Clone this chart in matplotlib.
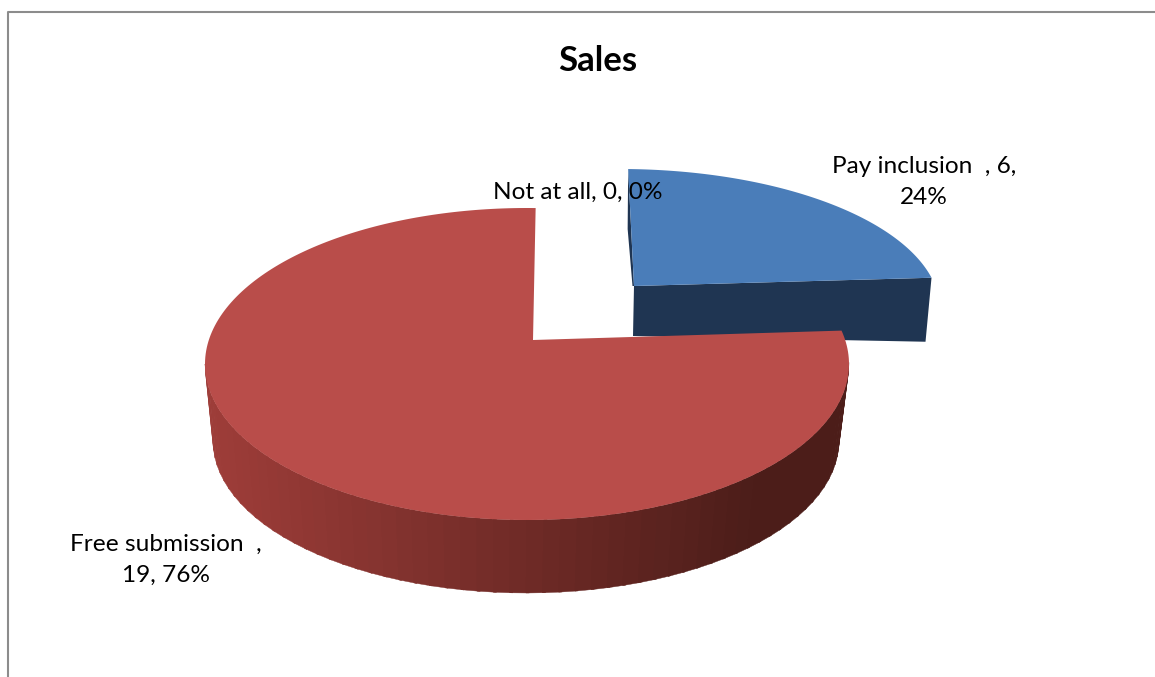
import numpy as np
import matplotlib
matplotlib.use("Agg")
import matplotlib.pyplot as plt
from matplotlib.patches import Polygon

categories = ["Pay inclusion  ", "Free submission  ", "Not at all"]
values = [6, 19, 0]
title = "Sales"

plt.rcParams['font.family'] = ['Lato', 'DejaVu Sans']

W, H = 1155, 677
BORDER = "#8c8c8c"
BLUE_TOP = "#4a7db9"
BLUE_SIDE = "#1f3552"
RED_TOP = "#b94d4a"
RED_SIDE_LEFT = np.array([0x9e, 0x3d, 0x39]) / 255
RED_SIDE_RIGHT = np.array([0x4c, 0x1d, 0x19]) / 255

# pie geometry in picture pixels (exploded slices, perspective)
blue = dict(apex=(634, 286), center=(620, 310), rx=320, ry=141, lean=-0.05)
red = dict(apex=(533, 340), center=(527, 364), rx=322, ry=156, lean=0.02)
red_bottom = dict(center=(526, 441), rx=313, ry=152)


def rim_point(s, theta):
    """Where a pie angle (clockwise from top) meets the slice's ellipse."""
    ax_, ay_ = s['apex']
    cx, cy = s['center']
    dx = s['rx'] * np.sin(theta) + s['lean'] * s['ry'] * np.cos(theta)
    dy = -s['ry'] * np.cos(theta)
    # solve the ray/ellipse intersection
    ox, oy = (ax_ - cx) / s['rx'], (ay_ - cy) / s['ry']
    ux, uy = dx / s['rx'], dy / s['ry']
    a = ux**2 + uy**2
    b = 2 * (ox * ux + oy * uy)
    c = ox**2 + oy**2 - 1
    t = (-b + np.sqrt(b**2 - 4 * a * c)) / (2 * a)
    return ax_ + t * dx, ay_ + t * dy


def wedge_outline(s, start, end):
    thetas = np.linspace(start, end, 240)
    pts = [rim_point(s, th) for th in thetas]
    return [s['apex']] + pts


fig = plt.figure(figsize=(W / 100, H / 100), dpi=100, facecolor="white")
ax = fig.add_axes([0, 0, 1, 1])
ax.set_xlim(0, W)
ax.set_ylim(H, 0)
ax.axis('off')

# slice angles come from the values
total = sum(values)
angles = np.cumsum([0] + values) / total * 2 * np.pi

# chart border, only left and top are inside the crop
ax.plot([7.5, 7.5, W], [H, 11.5, 11.5], color=BORDER, lw=1.5)

# blue slice: cut face first, then the top
blue_pts = wedge_outline(blue, angles[0], angles[1])
bx, by = blue['apex']
rx_, ry_ = blue_pts[-1]
tx, ty = blue_pts[1]
ax.add_patch(Polygon([(bx, by), (rx_, ry_), (rx_ - 6, ry_ + 64), (bx - 1, by + 50)],
                     closed=True, fc=BLUE_SIDE, ec='none', zorder=2))
ax.add_patch(Polygon([(tx, ty), (bx, by), (bx - 1.5, by), (tx - 0.5, ty + 60)],
                     closed=True, fc=BLUE_SIDE, ec='none', zorder=2))
ax.add_patch(Polygon(blue_pts, closed=True, fc=BLUE_TOP, ec='none', zorder=3))

# red slice: shaded rim in strips, then the top
ts = np.linspace(np.pi, 0, 61)
for i in range(len(ts) - 1):
    t0, t1 = ts[i], ts[i + 1] - 0.01
    cxt, cyt = red['center']
    cxb, cyb = red_bottom['center']
    strip = [
        (cxt + red['rx'] * np.cos(t0), cyt + red['ry'] * np.sin(t0)),
        (cxt + red['rx'] * np.cos(t1), cyt + red['ry'] * np.sin(t1)),
        (cxb + red_bottom['rx'] * np.cos(t1), cyb + red_bottom['ry'] * np.sin(t1)),
        (cxb + red_bottom['rx'] * np.cos(t0), cyb + red_bottom['ry'] * np.sin(t0)),
    ]
    # rim goes dark well before the right end
    frac = min(1.0, (1 + np.cos(t0)) / 2 / 0.85)
    col = RED_SIDE_LEFT + (RED_SIDE_RIGHT - RED_SIDE_LEFT) * frac
    ax.add_patch(Polygon(strip, closed=True, fc=col, ec=col, lw=0.3, zorder=4))

red_pts = wedge_outline(red, angles[1], angles[2])
ax.add_patch(Polygon(red_pts, closed=True, fc=RED_TOP, ec='none', zorder=5))

# title and data labels
ax.text(598, 61, title, ha='center', va='center', fontsize=25, fontweight='bold',
        color='black', zorder=6)

pcts = [round(v / total * 100) for v in values]
labels = [f"{c}, {v}, {p}%" for c, v, p in zip(categories, values, pcts)]
ax.text(924, 182, labels[0].replace(", 6, ", ", 6,\n"), ha='center', va='center',
        fontsize=17.6, color='black', linespacing=1.6, zorder=6)
ax.text(166, 560, labels[1].replace(", 19, ", ",\n19, "), ha='center', va='center',
        fontsize=17.6, color='black', linespacing=1.6, zorder=6)
ax.text(578, 192, labels[2], ha='center', va='center', fontsize=17.6, color='black',
        zorder=6)

fig.savefig("out.png", dpi=100, facecolor="white")
